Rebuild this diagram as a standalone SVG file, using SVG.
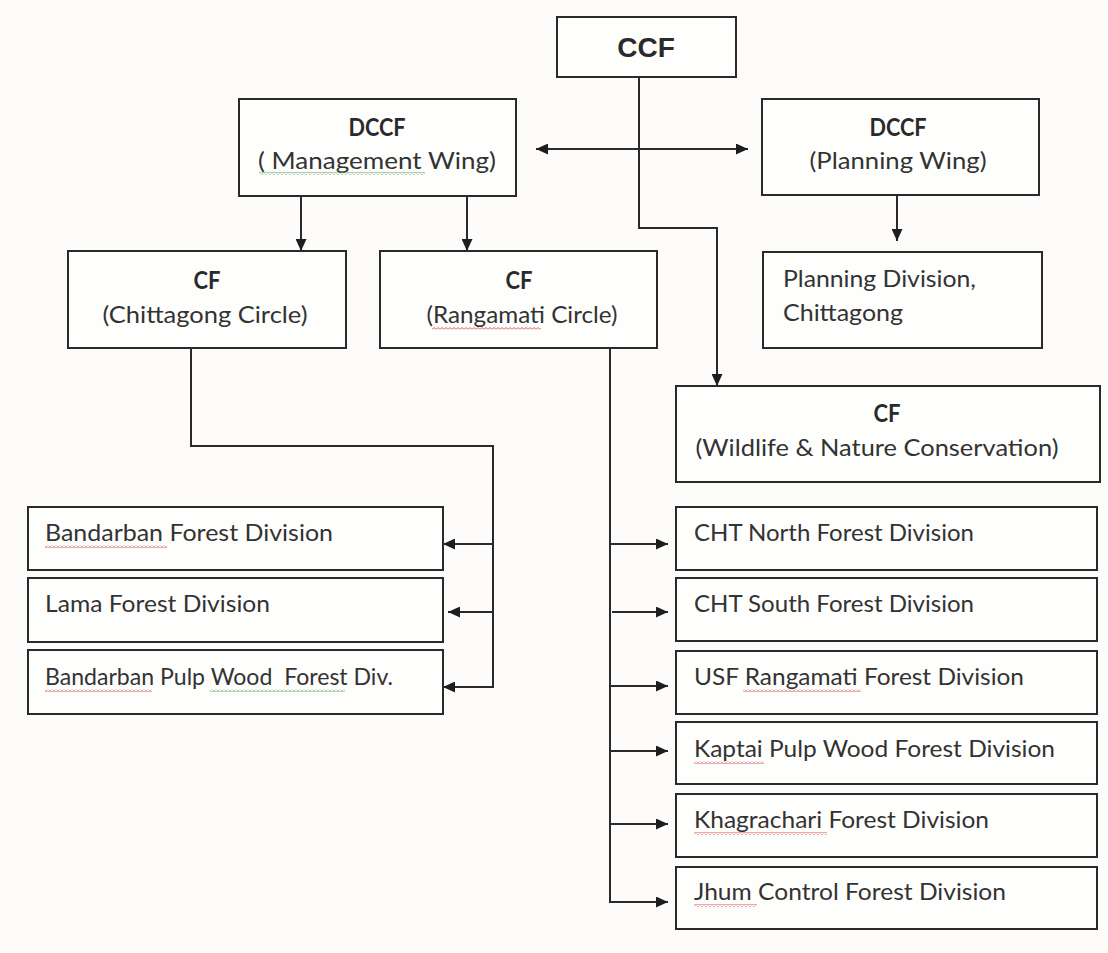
<svg xmlns="http://www.w3.org/2000/svg" width="1108" height="953" viewBox="0 0 1108 953">
<style>
.box{fill:#fefefd;stroke:#2a2a2a;stroke-width:2}
.t{font-family:Lato,"Open Sans","Liberation Sans",sans-serif;font-size:24px;fill:#333}
.b{font-weight:bold;fill:#2a2a2a}
.c{text-anchor:middle}
.ln{fill:none;stroke:#2a2a2a;stroke-width:2}
.arr{marker-end:url(#ah)}
</style>
<defs>
<marker id="ah" markerUnits="userSpaceOnUse" markerWidth="13" markerHeight="11" refX="12" refY="5.5" orient="auto-start-reverse" viewBox="0 0 13 11">
<path d="M0,0 L12,5.5 L0,11 z" fill="#1e1e1e"/>
</marker>
<pattern id="sqr" width="4" height="3" patternUnits="userSpaceOnUse">
<path d="M0,2.5 L2,0.5 L4,2.5" fill="none" stroke="#d9534f" stroke-width="1"/>
</pattern>
<pattern id="sqg" width="4" height="3" patternUnits="userSpaceOnUse">
<path d="M0,2.5 L2,0.5 L4,2.5" fill="none" stroke="#5f9f5f" stroke-width="1"/>
</pattern>
</defs>
<rect x="0" y="0" width="1108" height="953" fill="#fdfcfa"/>

<g id="connectors">
<path class="ln arr" d="M639,77 V228 H717 V386"/>
<path class="ln" d="M536,149 H748" marker-start="url(#ah)" marker-end="url(#ah)"/>
<path class="ln arr" d="M301,196 V251"/>
<path class="ln arr" d="M467,196 V251"/>
<path class="ln arr" d="M897,195 V241"/>
<path class="ln arr" d="M191,348 V446 H493 V687 H443"/>
<path class="ln arr" d="M493,544 H443"/>
<path class="ln arr" d="M493,612 H448"/>
<path class="ln arr" d="M610,348 V902 H668"/>
<path class="ln arr" d="M610,544 H668"/>
<path class="ln arr" d="M612,612 H668"/>
<path class="ln arr" d="M610,686 H668"/>
<path class="ln arr" d="M610,751 H668"/>
<path class="ln arr" d="M610,824 H668"/>
</g>

<g id="ccf">
<rect class="box" x="557" y="17" width="179" height="60"/>
<text x="646" y="57" text-anchor="middle" font-family="'Liberation Sans',Arial,sans-serif" font-weight="bold" font-size="28" fill="#2a2a2a">CCF</text>
</g>

<g id="dccf-management">
<rect class="box" x="239" y="99" width="277" height="97"/>
<text class="t b c" x="377" y="136" textLength="57" lengthAdjust="spacingAndGlyphs">DCCF</text>
<text class="t c" x="377" y="169" textLength="238" lengthAdjust="spacingAndGlyphs">( Management Wing)</text>
<rect x="259" y="172" width="166" height="3" fill="url(#sqg)"/>
</g>

<g id="dccf-planning">
<rect class="box" x="762" y="99" width="277" height="96"/>
<text class="t b c" x="898" y="136" textLength="57" lengthAdjust="spacingAndGlyphs">DCCF</text>
<text class="t c" x="898" y="169" textLength="177" lengthAdjust="spacingAndGlyphs">(Planning Wing)</text>
</g>

<g id="cf-chittagong">
<rect class="box" x="68" y="251" width="278" height="97"/>
<text class="t b c" x="207" y="289" textLength="27" lengthAdjust="spacingAndGlyphs">CF</text>
<text class="t c" x="205" y="323" textLength="205" lengthAdjust="spacingAndGlyphs">(Chittagong Circle)</text>
</g>

<g id="cf-rangamati">
<rect class="box" x="380" y="251" width="277" height="97"/>
<text class="t b c" x="519" y="289" textLength="27" lengthAdjust="spacingAndGlyphs">CF</text>
<text class="t c" x="522" y="323" textLength="191" lengthAdjust="spacingAndGlyphs">(Rangamati Circle)</text>
<rect x="432" y="327" width="109" height="3" fill="url(#sqr)"/>
</g>

<g id="planning-division">
<rect class="box" x="763" y="252" width="279" height="96"/>
<text class="t" x="783" y="287" textLength="193" lengthAdjust="spacingAndGlyphs">Planning Division,</text>
<text class="t" x="783" y="321" textLength="120" lengthAdjust="spacingAndGlyphs">Chittagong</text>
</g>

<g id="cf-wildlife">
<rect class="box" x="676" y="386" width="424" height="96"/>
<text class="t b c" x="887" y="422" textLength="27" lengthAdjust="spacingAndGlyphs">CF</text>
<text class="t c" x="877" y="456" textLength="363" lengthAdjust="spacingAndGlyphs">(Wildlife &amp; Nature Conservation)</text>
</g>

<g id="bandarban-fd">
<rect class="box" x="28" y="507" width="415" height="63"/>
<text class="t" x="45" y="541" textLength="288" lengthAdjust="spacingAndGlyphs">Bandarban Forest Division</text>
<rect x="45" y="545" width="122" height="3" fill="url(#sqr)"/>
</g>

<g id="lama-fd">
<rect class="box" x="28" y="578" width="415" height="64"/>
<text class="t" x="45" y="612" textLength="225" lengthAdjust="spacingAndGlyphs">Lama Forest Division</text>
</g>

<g id="bandarban-pulp">
<rect class="box" x="28" y="650" width="415" height="64"/>
<text class="t" x="45" y="685" textLength="348" lengthAdjust="spacingAndGlyphs" xml:space="preserve" style="white-space:pre">Bandarban Pulp Wood  Forest Div.</text>
<rect x="45" y="689" width="107" height="3" fill="url(#sqr)"/>
<rect x="210" y="689" width="135" height="3" fill="url(#sqg)"/>
</g>

<g id="cht-north">
<rect class="box" x="676" y="507" width="421" height="63"/>
<text class="t" x="694" y="541" textLength="280" lengthAdjust="spacingAndGlyphs">CHT North Forest Division</text>
</g>

<g id="cht-south">
<rect class="box" x="676" y="578" width="421" height="63"/>
<text class="t" x="694" y="612" textLength="280" lengthAdjust="spacingAndGlyphs">CHT South Forest Division</text>
</g>

<g id="usf-rangamati">
<rect class="box" x="676" y="651" width="421" height="63"/>
<text class="t" x="694" y="685" textLength="330" lengthAdjust="spacingAndGlyphs">USF Rangamati Forest Division</text>
<rect x="743" y="689" width="118" height="3" fill="url(#sqr)"/>
</g>

<g id="kaptai">
<rect class="box" x="676" y="722" width="421" height="62"/>
<text class="t" x="694" y="757" textLength="361" lengthAdjust="spacingAndGlyphs">Kaptai Pulp Wood Forest Division</text>
<rect x="694" y="761" width="70" height="3" fill="url(#sqr)"/>
</g>

<g id="khagrachari">
<rect class="box" x="676" y="794" width="421" height="63"/>
<text class="t" x="694" y="828" textLength="295" lengthAdjust="spacingAndGlyphs">Khagrachari Forest Division</text>
<rect x="694" y="832" width="133" height="3" fill="url(#sqr)"/>
</g>

<g id="jhum">
<rect class="box" x="676" y="867" width="421" height="62"/>
<text class="t" x="694" y="900" textLength="312" lengthAdjust="spacingAndGlyphs">Jhum Control Forest Division</text>
<rect x="694" y="904" width="63" height="3" fill="url(#sqr)"/>
</g>
</svg>
